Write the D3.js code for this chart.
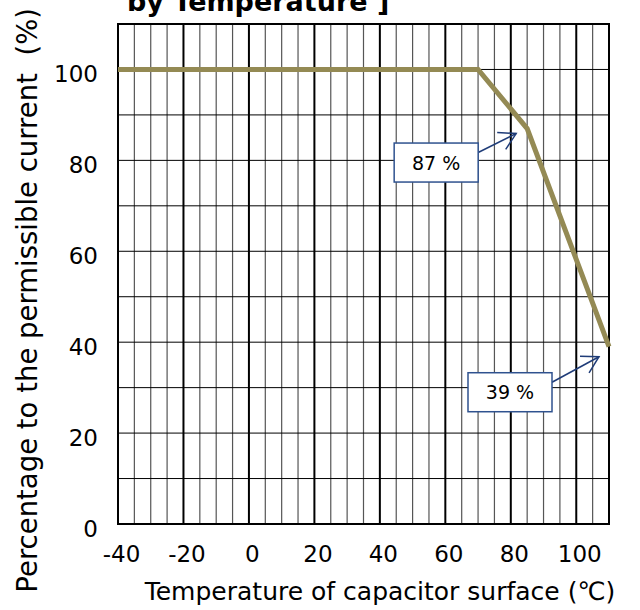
<!DOCTYPE html>
<html>
<head>
<meta charset="utf-8">
<script src="https://cdn.jsdelivr.net/npm/d3@7/dist/d3.min.js"></script>
<style>
  html, body { margin: 0; padding: 0; background: #fff; }
  svg { display: block; font-family: "DejaVu Sans", Verdana, sans-serif; }
</style>
</head>
<body>
<svg id="chart" width="640" height="610"></svg>
<script>
// ---- data ----
const temps = [-40, 70, 85, 110];
const percents = [100, 100, 87, 39];
const xTicks = [-40, -20, 0, 20, 40, 60, 80, 100];
const yTicks = [0, 20, 40, 60, 80, 100];
const annotatedIdx = [2, 3];
const titleText = "by Temperature ]";
const xTitle = "Temperature of capacitor surface (\u2103)";
const yTitle = "Percentage to the permissible current\u00a0 (%)";

// ---- layout ----
const M = { left: 118, right: 609, top: 24, bottom: 524 };
const annotLayout = [
  { boxDx: -133, boxDy: 14.5, tipDx: -11, tipDy: 5 },
  { boxDx: -141, boxDy: 26, tipDx: -10, tipDy: 10 }
];
const boxW = 84, boxH = 39;

const svg = d3.select("#chart");
const x = d3.scaleLinear().domain([-40, 110]).range([M.left, M.right]);
const y = d3.scaleLinear().domain([0, 110]).range([M.bottom, M.top]);

// grid
const g = svg.append("g");
g.selectAll("line.v").data(d3.range(-35, 110, 5)).join("line")
  .attr("x1", d => x(d)).attr("x2", d => x(d))
  .attr("y1", M.top).attr("y2", M.bottom)
  .attr("stroke", d => (d % 20 === 0) ? "#000" : "#555")
  .attr("stroke-width", d => (d % 20 === 0) ? 2 : 1.2);
g.selectAll("line.h").data(d3.range(10, 110, 10)).join("line")
  .attr("x1", M.left).attr("x2", M.right)
  .attr("y1", d => y(d)).attr("y2", d => y(d))
  .attr("stroke", "#000").attr("stroke-width", 1);

// border
svg.append("rect")
  .attr("x", M.left).attr("y", M.top)
  .attr("width", M.right - M.left).attr("height", M.bottom - M.top)
  .attr("fill", "none").attr("stroke", "#000").attr("stroke-width", 2);

// axes (labels only)
const fmt = d => String(d);
const xAxis = svg.append("g").attr("transform", `translate(3,${M.bottom})`)
  .call(d3.axisBottom(x).tickValues(xTicks).tickSize(0).tickPadding(22).tickFormat(fmt));
xAxis.select(".domain").remove();
xAxis.selectAll("text").attr("font-size", 23).attr("fill", "#000")
  .attr("font-family", "'DejaVu Sans', Verdana, sans-serif").attr("dy", "0.71em");

const yAxis = svg.append("g").attr("transform", `translate(${M.left},5)`)
  .call(d3.axisLeft(y).tickValues(yTicks).tickSize(0).tickPadding(20).tickFormat(fmt));
yAxis.select(".domain").remove();
yAxis.selectAll("text").attr("font-size", 23).attr("fill", "#000")
  .attr("font-family", "'DejaVu Sans', Verdana, sans-serif");

// line
const line = d3.line().x((d, i) => x(temps[i])).y((d, i) => y(percents[i]));
svg.append("path").datum(percents)
  .attr("d", line).attr("fill", "none")
  .attr("stroke", "#948a54").attr("stroke-width", 5)
  .attr("stroke-linejoin", "miter");

// annotations
annotatedIdx.forEach((idx, k) => {
  const L = annotLayout[k];
  const px = x(temps[idx]), py = y(percents[idx]);
  const bx = px + L.boxDx, by = py + L.boxDy;
  const sx = bx + boxW, sy = by + 9.5;
  const tx = px + L.tipDx, ty = py + L.tipDy;
  const ang = Math.atan2(sy - ty, sx - tx);
  const wl = 19, wa = 30 * Math.PI / 180;
  const w1 = [tx + wl * Math.cos(ang + wa), ty + wl * Math.sin(ang + wa)];
  const w2 = [tx + wl * Math.cos(ang - wa), ty + wl * Math.sin(ang - wa)];
  svg.append("line").attr("x1", sx).attr("y1", sy).attr("x2", tx).attr("y2", ty)
    .attr("stroke", "#1f3c78").attr("stroke-width", 1.5);
  svg.append("path")
    .attr("d", `M${w1[0]},${w1[1]}L${tx},${ty}L${w2[0]},${w2[1]}`)
    .attr("fill", "none").attr("stroke", "#1f3c78").attr("stroke-width", 1.5);
  svg.append("rect").attr("x", bx).attr("y", by).attr("width", boxW).attr("height", boxH)
    .attr("fill", "#fff").attr("stroke", "#2f528f").attr("stroke-width", 1.5);
  svg.append("text").attr("x", bx + boxW / 2).attr("y", by + boxH / 2 + 7)
    .attr("text-anchor", "middle").attr("font-size", 19).attr("fill", "#000")
    .text(percents[idx] + " %");
});

// titles
svg.append("text").attr("x", 127).attr("y", 11)
  .attr("font-size", 27).attr("font-weight", "bold").attr("fill", "#000")
  .text(titleText);

svg.append("text").attr("x", 380).attr("y", 600)
  .attr("text-anchor", "middle").attr("font-size", 25).attr("fill", "#000")
  .text(xTitle);

svg.append("text")
  .attr("transform", "translate(37,8) rotate(-90)")
  .attr("text-anchor", "end").attr("font-size", 27.5).attr("fill", "#000")
  .text(yTitle);
</script>
</body>
</html>
